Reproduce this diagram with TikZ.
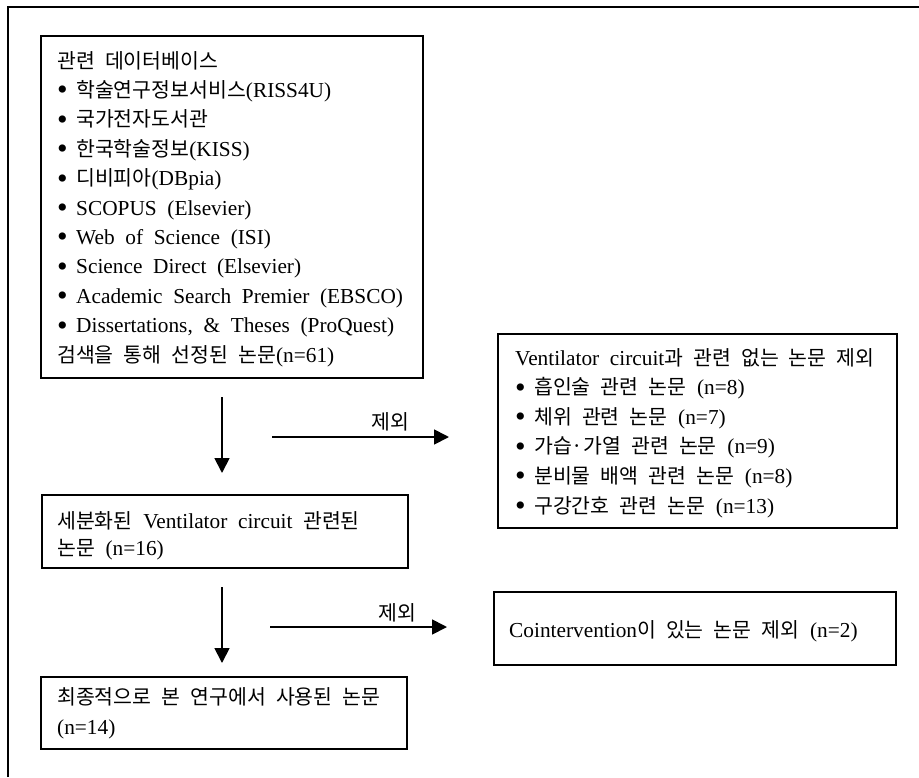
\documentclass[tikz,border=0pt]{standalone}
\usepackage{fontspec}
\setmainfont{Liberation Serif}[Scale=1.04,WordSpace=2.0]
\newfontfamily\krfont{Noto Sans CJK KR}[WordSpace=2.2]
\newcommand\hg[1]{{\krfont #1}}
\newcommand\bul{\makebox[19pt][l]{\raisebox{-2.5pt}{\fontsize{29}{29}\selectfont •}}}
\usetikzlibrary{arrows.meta}
\begin{document}
\begin{tikzpicture}[x=1pt,y=-1pt,
  box/.style={draw=black, line width=1.8pt, anchor=north west, inner sep=0pt},
  txt/.style={anchor=base west, inner sep=0pt, font=\fontsize{20.5}{24}\selectfont},
  lbl/.style={anchor=base, inner sep=0pt, font=\fontsize{20.5}{24}\selectfont},
  arr/.style={line width=1.8pt, -{Triangle[width=15pt,length=15pt]}},
  frame/.style={line width=1.8pt}]
\useasboundingbox (0,0) rectangle (919,777);
% outer frame (left and top only visible)
\coordinate (fA) at (8,777);
\coordinate (fB) at (8,7);
\coordinate (fC) at (919,7);
\draw[frame] (fA) -- (fB) -- (fC);
% boxes
\node[box, minimum width=382pt, minimum height=342pt] (db) at (40,35) {};
\node[box, minimum width=399pt, minimum height=194pt] (ex1) at (497,333) {};
\node[box, minimum width=366pt, minimum height=73pt] (sub) at (41,494) {};
\node[box, minimum width=402pt, minimum height=73pt] (ex2) at (493,591) {};
\node[box, minimum width=366pt, minimum height=72pt] (fin) at (40,676) {};
% box 1 text
\node[txt] (d1) at (57,68) {\hg{관련 데이터베이스}};
\node[txt] (d2) at (57,97.4) {\bul\hg{학술연구정보서비스}(RISS4U)};
\node[txt] (d3) at (57,126.8) {\bul\hg{국가전자도서관}};
\node[txt] (d4) at (57,156.2) {\bul\hg{한국학술정보}(KISS)};
\node[txt] (d5) at (57,185.6) {\bul\hg{디비피아}(DBpia)};
\node[txt] (d6) at (57,215) {\bul SCOPUS (Elsevier)};
\node[txt] (d7) at (57,244.4) {\bul Web of Science (ISI)};
\node[txt] (d8) at (57,273.8) {\bul Science Direct (Elsevier)};
\node[txt] (d9) at (57,303.2) {\bul Academic Search Premier (EBSCO)};
\node[txt] (d10) at (57,332.6) {\bul Dissertations, \& Theses (ProQuest)};
\node[txt] (d11) at (57,362) {\hg{검색을 통해 선정된 논문}(n=61)};
% exclusion box 1 text
\node[txt] (e0) at (515,365) {Ventilator circuit\hg{과 관련 없는 논문 제외}};
\node[txt] (e1) at (515,394.6) {\bul\hg{흡인술 관련 논문} (n=8)};
\node[txt] (e2) at (515,424.2) {\bul\hg{체위 관련 논문} (n=7)};
\node[txt] (e3) at (515,453.8) {\bul\hg{가습·가열 관련 논문} (n=9)};
\node[txt] (e4) at (515,483.4) {\bul\hg{분비물 배액 관련 논문} (n=8)};
\node[txt] (e5) at (515,513) {\bul\hg{구강간호 관련 논문} (n=13)};
% box 2 text
\node[txt] (s1) at (57,528) {\hg{세분화된} Ventilator circuit \hg{관련된}};
\node[txt] (s2) at (57,555) {\hg{논문} (n=16)};
% exclusion box 2 text
\node[txt] (c1) at (509,637) {Cointervention\hg{이 있는 논문 제외} (n=2)};
% final box text
\node[txt] (f1) at (57,704) {\hg{최종적으로 본 연구에서 사용된 논문}};
\node[txt] (f2) at (57,734) {(n=14)};
% arrows
\coordinate (a1s) at (222,397);
\coordinate (a1e) at (222,473);
\coordinate (h1s) at (272,437);
\coordinate (h1e) at (449,437);
\coordinate (a2s) at (222,587);
\coordinate (a2e) at (222,663);
\coordinate (h2s) at (270,627);
\coordinate (h2e) at (447,627);
\draw[arr] (a1s) -- (a1e);
\draw[arr] (h1s) -- (h1e);
\draw[arr] (a2s) -- (a2e);
\draw[arr] (h2s) -- (h2e);
\node[lbl] (l1) at (390,429) {\hg{제외}};
\node[lbl] (l2) at (397,620) {\hg{제외}};
\end{tikzpicture}
\end{document}
